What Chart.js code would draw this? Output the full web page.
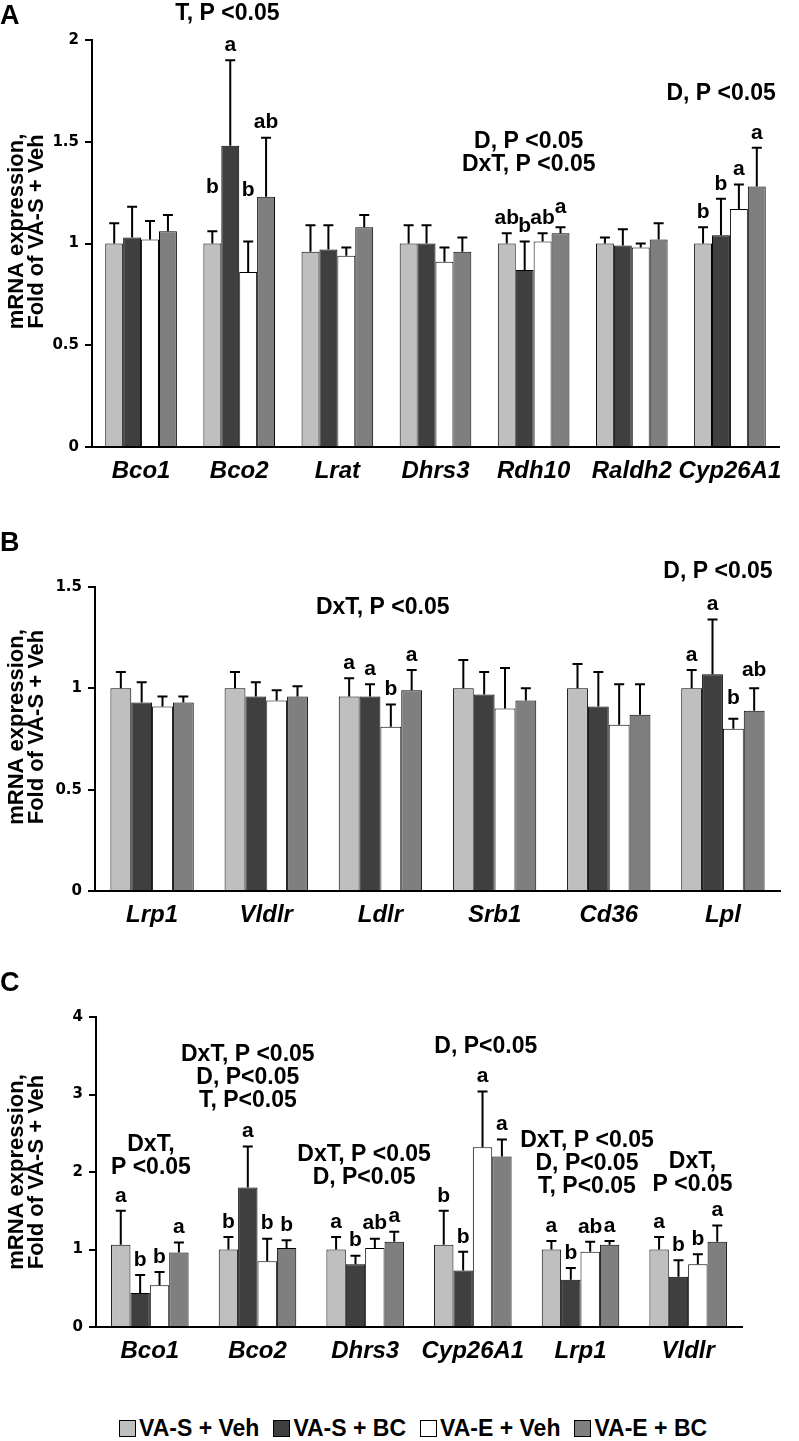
<!DOCTYPE html>
<html>
<head>
<meta charset="utf-8">
<script src="https://cdn.jsdelivr.net/npm/chart.js@4.4.1/dist/chart.umd.min.js"></script>
<style>
  body { margin: 0; background: #fff; }
  #page { position: relative; width: 799px; height: 1441px; overflow: hidden; background: #fff; }
  canvas { position: absolute; left: 0; }
  #legend { position: absolute; left: 119px; top: 1413px; height: 30px; display: flex; align-items: center;
            font: bold 23px "Liberation Sans", Arial, sans-serif; color: #000; white-space: nowrap; }
  #legend .item { display: flex; align-items: center; margin-right: 14px; }
  #legend .box { display: inline-block; width: 15px; height: 15px; border: 1px solid #000; margin-right: 3px; }
</style>
</head>
<body>
<div id="page">
  <canvas id="chartA"></canvas>
  <canvas id="chartB"></canvas>
  <canvas id="chartC"></canvas>
  <div id="legend"></div>
</div>
<script>
// groups
const seriesNames = ['VA-S + Veh', 'VA-S + BC', 'VA-E + Veh', 'VA-E + BC'];
const seriesColors = ['#bfbfbf', '#3f3f3f', '#ffffff', '#7f7f7f'];

// Panel A - fold of VA-S + Veh
const genesA = ['Bco1', 'Bco2', 'Lrat', 'Dhrs3', 'Rdh10', 'Raldh2', 'Cyp26A1'];
const A_sVeh = [1.00, 1.00, 0.96, 1.00, 1.00, 1.00, 1.00];
const A_sBC  = [1.03, 1.48, 0.97, 1.00, 0.87, 0.99, 1.04];
const A_eVeh = [1.02, 0.86, 0.94, 0.91, 1.01, 0.98, 1.17];
const A_eBC  = [1.06, 1.23, 1.08, 0.96, 1.05, 1.02, 1.28];
const A_sVeh_err = [0.10, 0.06, 0.13, 0.09, 0.05, 0.03, 0.08];
const A_sBC_err  = [0.15, 0.42, 0.12, 0.09, 0.14, 0.08, 0.18];
const A_eVeh_err = [0.09, 0.15, 0.04, 0.07, 0.04, 0.02, 0.12];
const A_eBC_err  = [0.08, 0.29, 0.06, 0.07, 0.03, 0.08, 0.19];
const A_sVeh_let = ['', 'b', '', '', 'ab', '', 'b'];
const A_sBC_let  = ['', 'a', '', '', 'b', '', 'b'];
const A_eVeh_let = ['', 'b', '', '', 'ab', '', 'a'];
const A_eBC_let  = ['', 'ab', '', '', 'a', '', 'a'];
const A_stats = ['', 'T, P <0.05', '', '', 'D, P <0.05\nDxT, P <0.05', '', 'D, P <0.05'];
const A_yTicks = [0, 0.5, 1, 1.5, 2];

// Panel B
const genesB = ['Lrp1', 'Vldlr', 'Ldlr', 'Srb1', 'Cd36', 'Lpl'];
const B_sVeh = [1.00, 1.00, 0.96, 1.00, 1.00, 1.00];
const B_sBC  = [0.93, 0.96, 0.96, 0.97, 0.91, 1.07];
const B_eVeh = [0.91, 0.94, 0.81, 0.90, 0.82, 0.80];
const B_eBC  = [0.93, 0.96, 0.99, 0.94, 0.87, 0.89];
const B_sVeh_err = [0.08, 0.08, 0.09, 0.14, 0.12, 0.09];
const B_sBC_err  = [0.10, 0.07, 0.06, 0.11, 0.17, 0.27];
const B_eVeh_err = [0.05, 0.05, 0.11, 0.20, 0.20, 0.05];
const B_eBC_err  = [0.03, 0.05, 0.10, 0.06, 0.15, 0.11];
const B_sVeh_let = ['', '', 'a', '', '', 'a'];
const B_sBC_let  = ['', '', 'a', '', '', 'a'];
const B_eVeh_let = ['', '', 'b', '', '', 'b'];
const B_eBC_let  = ['', '', 'a', '', '', 'ab'];
const B_stats = ['', '', 'DxT, P <0.05', '', '', 'D, P <0.05'];
const B_yTicks = [0, 0.5, 1, 1.5];

// Panel C
const genesC = ['Bco1', 'Bco2', 'Dhrs3', 'Cyp26A1', 'Lrp1', 'Vldlr'];
const C_sVeh = [1.06, 1.00, 1.00, 1.06, 1.00, 1.00];
const C_sBC  = [0.44, 1.80, 0.81, 0.73, 0.61, 0.65];
const C_eVeh = [0.54, 0.85, 1.02, 2.32, 0.97, 0.81];
const C_eBC  = [0.96, 1.02, 1.10, 2.20, 1.06, 1.10];
const C_sVeh_err = [0.44, 0.16, 0.16, 0.44, 0.11, 0.16];
const C_sBC_err  = [0.23, 0.53, 0.11, 0.24, 0.15, 0.21];
const C_eVeh_err = [0.17, 0.29, 0.12, 0.72, 0.13, 0.13];
const C_eBC_err  = [0.13, 0.10, 0.13, 0.22, 0.05, 0.21];
const C_sVeh_let = ['a', 'b', 'a', 'b', 'a', 'a'];
const C_sBC_let  = ['b', 'a', 'b', 'b', 'b', 'b'];
const C_eVeh_let = ['b', 'b', 'ab', 'a', 'ab', 'b'];
const C_eBC_let  = ['a', 'b', 'a', 'a', 'a', 'a'];
const C_stats = ['DxT,\nP <0.05', 'DxT, P <0.05\nD, P<0.05\nT, P<0.05', 'DxT, P <0.05\nD, P<0.05',
                 'D, P<0.05', 'DxT, P <0.05\nD, P<0.05\nT, P<0.05', 'DxT,\nP <0.05'];
const C_yTicks = [0, 1, 2, 3, 4];

const FONT = '"Liberation Sans", Arial, sans-serif';
const TICKFONT = '"DejaVu Sans", sans-serif';

// draws error bars, letters, stats text, panel letter and y title
const extras = {
    id: 'extras',
    afterDatasetsDraw(chart, args, opts) {
        const ctx = chart.ctx;
        const xs = chart.scales.x, ys = chart.scales.y, area = chart.chartArea;
        ctx.save();
        ctx.fillStyle = '#000';
        ctx.strokeStyle = '#000';
        ctx.textAlign = 'center';
        ctx.textBaseline = 'middle';

        chart.data.datasets.forEach((ds, i) => {
            chart.getDatasetMeta(i).data.forEach((bar, j) => {
                const top = ys.getPixelForValue(ds.data[j] + opts.errors[i][j]);
                ctx.lineWidth = 2;
                ctx.beginPath();
                ctx.moveTo(bar.x, bar.y);
                ctx.lineTo(bar.x, top);
                ctx.moveTo(bar.x - 5, top);
                ctx.lineTo(bar.x + 5, top);
                ctx.stroke();
                const s = opts.letters[i][j];
                if (s) {
                    const lift = opts.lift[i + '-' + j] || 0;
                    ctx.font = 'bold 21px ' + FONT;
                    ctx.fillText(s, bar.x, top - 15 - lift);
                }
            });
        });

        ctx.font = 'bold 23px ' + FONT;
        opts.stats.forEach((txt, j) => {
            if (!txt) return;
            const p = opts.statPos[j];
            const px = xs.getPixelForValue(p[0]);
            const py = ys.getPixelForValue(p[1]);
            txt.split('\n').forEach((line, k) => ctx.fillText(line, px, py + k * 23));
        });

        // panel letter
        ctx.textAlign = 'left';
        ctx.font = 'bold 27px ' + FONT;
        ctx.fillText(opts.panel, 0, opts.panelY);

        // y axis title
        ctx.save();
        ctx.translate(27, (area.top + area.bottom) / 2 + opts.titleDy);
        ctx.rotate(-Math.PI / 2);
        ctx.textAlign = 'center';
        ctx.font = 'bold 22px ' + FONT;
        ctx.fillText('mRNA expression,', 0, -10);
        ctx.fillText('Fold of VA-S + Veh', 0, 10);
        ctx.restore();
        ctx.restore();
    }
};

function makePanel(id, cfg) {
    const canvas = document.getElementById(id);
    const h = cfg.area.b - cfg.top + cfg.xh;
    canvas.width = 799;
    canvas.height = h;
    canvas.style.top = cfg.top + 'px';
    return new Chart(canvas.getContext('2d'), {
        type: 'bar',
        data: {
            labels: cfg.labels,
            datasets: cfg.values.map((v, i) => ({
                label: seriesNames[i],
                data: v,
                backgroundColor: seriesColors[i],
                borderColor: '#000',
                borderWidth: 1,
                categoryPercentage: cfg.catPct,
                barPercentage: 1.0
            }))
        },
        options: {
            responsive: false,
            animation: false,
            devicePixelRatio: 1,
            layout: { padding: { left: 0, top: cfg.area.t - cfg.top, right: 799 - cfg.area.r, bottom: 0 } },
            plugins: {
                legend: { display: false },
                tooltip: { enabled: false },
                extras: {
                    errors: cfg.errors, letters: cfg.letters, stats: cfg.stats, statPos: cfg.statPos,
                    lift: cfg.lift || {}, panel: cfg.panel, panelY: cfg.panelY - cfg.top, titleDy: cfg.titleDy
                }
            },
            scales: {
                x: {
                    grid: { display: false, drawTicks: false },
                    border: { display: true, color: '#000', width: 2 },
                    ticks: { color: '#000', padding: 10, maxRotation: 0, autoSkip: false,
                             font: { family: FONT, size: 24, style: 'italic', weight: 'bold' } },
                    afterFit: s => { s.height = cfg.xh; }
                },
                y: {
                    min: 0,
                    max: cfg.yTicks[cfg.yTicks.length - 1],
                    afterBuildTicks: s => { s.ticks = cfg.yTicks.map(v => ({ value: v })); },
                    grid: { drawOnChartArea: false, drawTicks: true, tickLength: 7, color: '#000', lineWidth: 2 },
                    border: { display: true, color: '#000', width: 2 },
                    ticks: { color: '#000', padding: 6, font: { family: TICKFONT, size: 15, weight: 'bold' },
                             callback: v => String(v) },
                    afterFit: s => { s.width = cfg.area.l; }
                }
            }
        },
        plugins: [extras]
    });
}

makePanel('chartA', {
    top: 0, area: { l: 92, t: 40, r: 779, b: 447 }, xh: 53, catPct: 0.73,
    labels: genesA, yTicks: A_yTicks,
    values: [A_sVeh, A_sBC, A_eVeh, A_eBC],
    errors: [A_sVeh_err, A_sBC_err, A_eVeh_err, A_eBC_err],
    letters: [A_sVeh_let, A_sBC_let, A_eVeh_let, A_eBC_let],
    stats: A_stats,
    statPos: { 1: [0.88, 2.13], 4: [3.95, 1.50], 6: [5.91, 1.735] },
    lift: { '0-1': 29, '2-1': 36, '3-4': 5 },
    panel: 'A', panelY: 17, titleDy: -12
});

makePanel('chartB', {
    top: 500, area: { l: 95, t: 587, r: 780, b: 891 }, xh: 44, catPct: 0.73,
    labels: genesB, yTicks: B_yTicks,
    values: [B_sVeh, B_sBC, B_eVeh, B_eBC],
    errors: [B_sVeh_err, B_sBC_err, B_eVeh_err, B_eBC_err],
    letters: [B_sVeh_let, B_sBC_let, B_eVeh_let, B_eBC_let],
    stats: B_stats,
    statPos: { 2: [2.02, 1.40], 5: [4.957, 1.575] },
    lift: { '2-5': 6, '3-5': 3 },
    panel: 'B', panelY: 544, titleDy: -12
});

makePanel('chartC', {
    top: 935, area: { l: 96, t: 1017, r: 742, b: 1327 }, xh: 50, catPct: 0.72,
    labels: genesC, yTicks: C_yTicks,
    values: [C_sVeh, C_sBC, C_eVeh, C_eBC],
    errors: [C_sVeh_err, C_sBC_err, C_eVeh_err, C_eBC_err],
    letters: [C_sVeh_let, C_sBC_let, C_eVeh_let, C_eBC_let],
    stats: C_stats,
    statPos: { 0: [0.01, 2.35], 1: [0.91, 3.51], 2: [1.99, 2.22], 3: [3.12, 3.62], 4: [4.06, 2.41], 5: [5.04, 2.13] },
    panel: 'C', panelY: 984, titleDy: 0
});

// legend
const legend = document.getElementById('legend');
seriesNames.forEach((name, i) => {
    const item = document.createElement('div');
    item.className = 'item';
    const box = document.createElement('span');
    box.className = 'box';
    box.style.background = seriesColors[i];
    item.appendChild(box);
    item.appendChild(document.createTextNode(name));
    legend.appendChild(item);
});
</script>
</body>
</html>
